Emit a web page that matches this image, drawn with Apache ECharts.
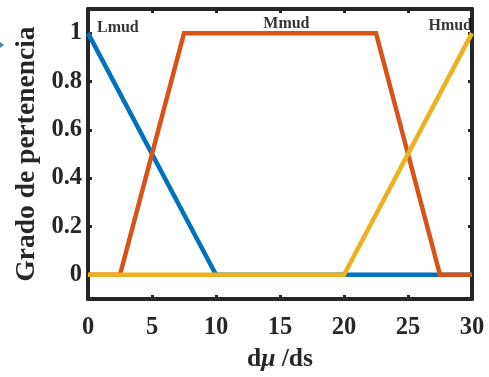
<!DOCTYPE html>
<html>
<head>
<meta charset="utf-8">
<script src="https://cdn.jsdelivr.net/npm/echarts@6/dist/echarts.min.js"></script>
<style>
  html, body { margin: 0; padding: 0; background: #fff; }
  #chart { width: 489px; height: 377px; }
</style>
</head>
<body>
<div id="chart"></div>
<script>
// Membership functions over dμ/ds: [x, degree] breakpoints
const lowMud = [[0, 1], [10, 0], [30, 0]];
const midMud = [[0, 0], [2.5, 0], [7.5, 1], [22.5, 1], [27.5, 0], [30, 0]];
const highMud = [[0, 0], [20, 0], [30, 1]];

// Set labels placed in data coordinates
const setNames = ['Lmud', 'Mmud', 'Hmud'];
const setLabelPos = [[0.7, 1.02], [15.5, 1.04], [30, 1.03]];
const setLabelAlign = ['left', 'center', 'right'];

const yTicks = [0, 0.2, 0.4, 0.6, 0.8, 1];

const FONT = '"Liberation Serif", "Times New Roman", serif';
const AXIS_COLOR = '#262626';

const chart = echarts.init(document.getElementById('chart'), null, { renderer: 'canvas' });

const axisLine = { show: true, onZero: false, lineStyle: { color: AXIS_COLOR, width: 4 } };
const axisTick = { show: true, inside: true, length: 4, lineStyle: { color: AXIS_COLOR, width: 3 } };

const lineSeries = (name, data, color, z) => ({
  name, type: 'line', data, showSymbol: false, symbol: 'none', z,
  lineStyle: { color, width: 4.5, cap: 'butt', join: 'miter' },
  animation: false
});

chart.setOption({
  animation: false,
  grid: { left: 88, right: 17, top: 9, bottom: 75, containLabel: false },
  xAxis: [{
    type: 'value', min: 0, max: 30, interval: 5,
    axisLine, axisTick, splitLine: { show: false },
    axisLabel: { color: AXIS_COLOR, fontFamily: FONT, fontWeight: 'bold', fontSize: 24.5, margin: 16 },
    name: '{a|d}{b|μ}{a| /ds}', nameLocation: 'middle', nameGap: 47,
    nameTextStyle: {
      rich: {
        a: { fontFamily: FONT, fontWeight: 'bold', fontSize: 25.5, color: AXIS_COLOR },
        b: { fontFamily: FONT, fontWeight: 'bold', fontStyle: 'italic', fontSize: 25.5, color: AXIS_COLOR }
      }
    }
  }, {
    type: 'value', position: 'top', min: 0, max: 30, interval: 5,
    axisLine, axisTick, axisLabel: { show: false }, splitLine: { show: false }
  }],
  yAxis: [{
    type: 'value', min: -0.1, max: 1.1,
    axisLine,
    axisTick: Object.assign({}, axisTick, { customValues: yTicks }),
    splitLine: { show: false },
    axisLabel: {
      customValues: yTicks, color: AXIS_COLOR, fontFamily: FONT, fontWeight: 'bold', fontSize: 24.5, margin: 6,
      formatter: v => String(+v.toFixed(1))
    },
    name: 'Grado de pertenencia', nameLocation: 'middle', nameGap: 44,
    nameTextStyle: { fontFamily: FONT, fontWeight: 'bold', fontSize: 27.5, color: AXIS_COLOR }
  }, {
    type: 'value', position: 'right', min: -0.1, max: 1.1,
    axisLine,
    axisTick: Object.assign({}, axisTick, { customValues: yTicks }),
    axisLabel: { show: false }, splitLine: { show: false }
  }],
  series: [
    lineSeries('Lmud', lowMud, '#0072BD', 2),
    lineSeries('Mmud', midMud, '#D95319', 3),
    lineSeries('Hmud', highMud, '#EDB120', 4),
    {
      type: 'scatter', symbolSize: 0, z: 6, silent: true,
      data: setNames.map((n, i) => ({
        name: n, value: setLabelPos[i],
        label: { align: setLabelAlign[i] }
      })),
      label: {
        show: true, position: 'inside', formatter: p => p.name,
        fontFamily: FONT, fontWeight: 'bold', fontSize: 16, color: '#000'
      }
    }
  ],
  graphic: [{
    type: 'polygon', left: 0, top: 42,
    shape: { points: [[0, 0], [4, 3], [0, 6]] },
    style: { fill: '#4a7fb5' }
  }]
});
</script>
</body>
</html>
